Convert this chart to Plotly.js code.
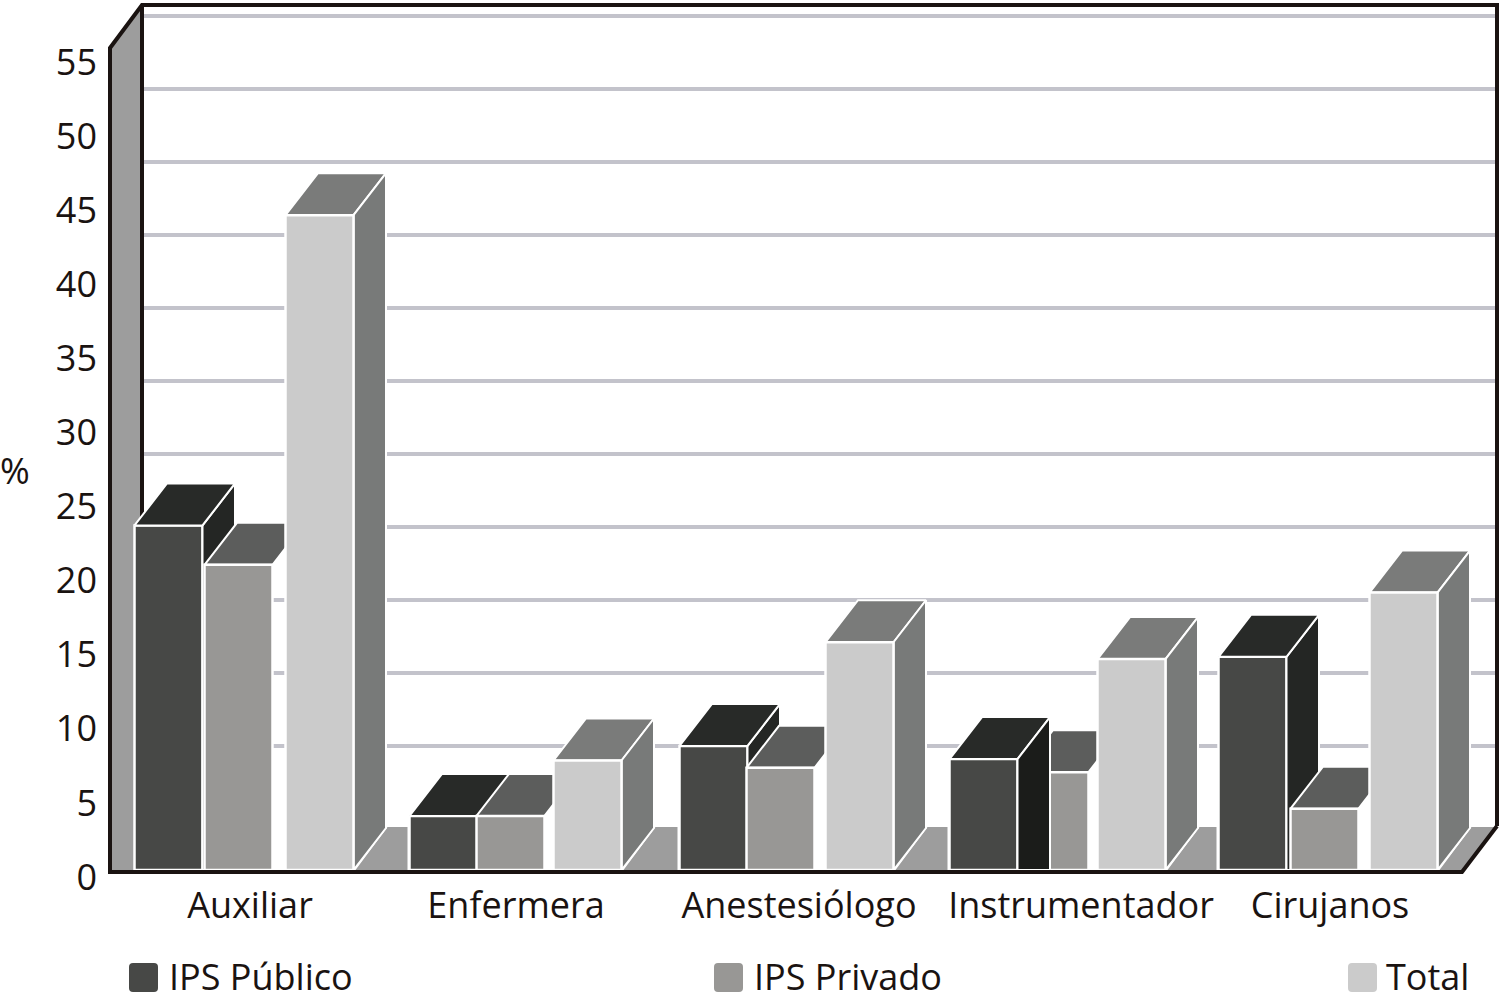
<!DOCTYPE html>
<html><head><meta charset="utf-8">
<script src="https://cdn.plot.ly/plotly-3.0.1.min.js"></script>
<style>html,body{margin:0;padding:0;background:#fff}#c{width:1500px;height:992px}</style>
</head><body><div id="c"></div>
<script>
const categories = ['Auxiliar','Enfermera','Anestesiólogo','Instrumentador','Cirujanos'];
const ipsPublico = [23.6,3.7,8.5,7.6,14.6];
const ipsPrivado = [20.9,3.7,7.0,6.7,4.2];
const total = [44.85,7.5,15.6,14.45,19.0];
const axisTicks = [0,5,10,15,20,25,30,35,40,45,50,55];
const wallTicks = [5,10,15,20,25,30,35,40,45,50,55];

// layout constants (pixel-like x units, front floor at value 0)
const PLOT = {l:108,r:1,t:0,b:112,w:1500,h:992};
const Y0 = 870, SCALE = 14.6;
const yVal = px => (Y0-px)/SCALE;
const DX = 32.5, DY = 42/SCALE, W = 68;
const leftPub = [134.5,409.5,679.5,949.5,1218.5];
const leftPri = [204.5,476.5,746.5,1020.5,1290.5];
const leftTot = [285.5,553.5,825.5,1097.5,1369.5];
const labelX = [250,516,799,1081,1330];
const bottom = PLOT.h-PLOT.b;

const C = {pubF:'#474846',pubT:'#282a28',pubS:'#242624',pubSd:'#1b1c1a',
           priF:'#989795',priT:'#5c5d5c',totF:'#cbcbcb',totT:'#7a7b7a',totS:'#787a79',
           wall:'#9d9d9d',line:'#1a1311',grid:'#c3c3cb',text:'#1a1311'};

function poly(list){ // list of polygons -> x,y with null separators
  const x=[],y=[];
  list.forEach((p,i)=>{ if(i){x.push(null);y.push(null);} p.forEach(q=>{x.push(q[0]);y.push(q[1]);}); x.push(p[0][0]);y.push(p[0][1]); });
  return {x,y};
}
const topFace=(l,v)=>[[l,v],[l+DX,v+DY],[l+W+DX,v+DY],[l+W,v]];
const sideFace=(l,v)=>[[l+W,0],[l+W,v],[l+W+DX,v+DY],[l+W+DX,DY]];
const sideToFloor=(l,v)=>[[l+W,0],[l+W,v],[l+W+DX,v+DY],[l+W+DX,0]];
function face(polys,color,z,lw){
  const p=poly(polys);
  return {type:'scatter',mode:'lines',x:p.x,y:p.y,fill:'toself',fillcolor:color,
    line:{color:'#ffffff',width:lw===undefined?2:lw},zorder:z,hoverinfo:'skip',showlegend:false};
}
function bar(name,left,vals,color,z){
  return {type:'bar',name,x:left.map(l=>l+W/2),y:vals,width:W,customdata:categories,
    marker:{color,line:{color:'#ffffff',width:2.5}},zorder:z,showlegend:false,
    hovertemplate:'%{customdata}: %{y}<extra>'+name+'</extra>'};
}
function lineTrace(pts,z,w){
  return {type:'scatter',mode:'lines',x:pts.map(p=>p[0]),y:pts.map(p=>yVal(p[1])),
    line:{color:C.line,width:w||4},zorder:z,hoverinfo:'skip',showlegend:false,cliponaxis:false};
}

// floor pieces between the groups
const floors = leftTot.map((t,i)=>{
  const a=t+W+2, next = i<leftPub.length-1 ? leftPub[i+1]-2 : null;
  const back=yVal(827);
  return next!==null ? [[a,0],[a+32,back],[next,back],[next,0]] : [[a,0],[a+32,back],[1495,back],[1462,0]];
});
const wallPoly = [[110,yVal(870)],[110,yVal(48)],[141,yVal(7)],[141,yVal(870)]];
const cornerPoly = [[108,yVal(0)],[141,yVal(0)],[141,yVal(5)],[110,yVal(46)],[108,yVal(46)]];
const instr = 3;

const data = [
  face([cornerPoly],'#ffffff',0,0),
  face([wallPoly],C.wall,0,0),
  face(floors,C.wall,0,0),
  lineTrace([[110,872],[110,48],[142,5],[1497,5],[1497,826]],1),
  lineTrace([[142,5],[142,870]],1),
  bar('IPS Público',leftPub,ipsPublico,C.pubF,2),
  face(leftPub.map((l,i)=>sideToFloor(l,ipsPublico[i])).filter((_,i)=>i!==instr),C.pubS,3),
  face(leftPub.map((l,i)=>topFace(l,ipsPublico[i])),C.pubT,3),
  face(leftPri.map((l,i)=>topFace(l,ipsPrivado[i])),C.priT,4),
  bar('IPS Privado',leftPri,ipsPrivado,C.priF,5),
  face([sideToFloor(leftPub[instr],ipsPublico[instr])],C.pubSd,6),
  face(leftTot.map((l,i)=>topFace(l,total[i])),C.totT,7),
  face(leftTot.map((l,i)=>sideFace(l,total[i])),C.totS,7),
  bar('Total',leftTot,total,C.totF,8),
  lineTrace([[108,872],[1462,872],[1497,826]],9),
  {type:'scatter',mode:'markers',x:[600],y:[5],yaxis:'y2',marker:{opacity:0},hoverinfo:'skip',showlegend:false},
  {type:'scatter',mode:'markers',x:[600],y:[5],yaxis:'y3',marker:{opacity:0},hoverinfo:'skip',showlegend:false}
];

const pxX = px => (px-PLOT.l)/(PLOT.w-PLOT.l-PLOT.r);
const pxY = px => 1-(px-PLOT.t)/(bottom-PLOT.t);
function swatch(x,color){
  const x0=x,x1=x+29,y0=963,y1=992,r=4;
  const X=pxX,Y=pxY;
  return {type:'path',xref:'paper',yref:'paper',fillcolor:color,line:{width:0},
    path:`M${X(x0+r)},${Y(y0)} L${X(x1-r)},${Y(y0)} Q${X(x1)},${Y(y0)} ${X(x1)},${Y(y0+r)} L${X(x1)},${Y(y1-r)} Q${X(x1)},${Y(y1)} ${X(x1-r)},${Y(y1)} L${X(x0+r)},${Y(y1)} Q${X(x0)},${Y(y1)} ${X(x0)},${Y(y1-r)} L${X(x0)},${Y(y0+r)} Q${X(x0)},${Y(y0)} ${X(x0+r)},${Y(y0)} Z`};
}
const font = {family:'"Open Sans", sans-serif',size:36,color:C.text};
const legendNote=(x,text)=>({xref:'paper',yref:'paper',x:pxX(x),y:pxY(977),text,showarrow:false,xanchor:'left',yanchor:'middle',font,borderpad:0});

const layout = {
  width:PLOT.w,height:PLOT.h,autosize:false,
  margin:{l:PLOT.l,r:PLOT.r,t:PLOT.t,b:PLOT.b,pad:0},
  paper_bgcolor:'#fff',plot_bgcolor:'#fff',barmode:'overlay',showlegend:false,hovermode:'closest',
  xaxis:{range:[PLOT.l,PLOT.w-PLOT.r],tickmode:'array',tickvals:labelX,ticktext:categories,tickfont:font,
    ticks:'',showgrid:false,zeroline:false,showline:false,fixedrange:true,ticklabelstandoff:1},
  yaxis:{range:[yVal(bottom),yVal(0)],showticklabels:false,ticks:'',showgrid:false,zeroline:false,showline:false,fixedrange:true},
  yaxis2:{overlaying:'y',side:'left',anchor:'x',range:[(877-bottom)/14.82,877/14.82],tickmode:'array',tickvals:axisTicks,
    tickfont:font,ticks:'',showgrid:false,zeroline:false,showline:false,fixedrange:true,ticklabelstandoff:10},
  yaxis3:{overlaying:'y',side:'left',anchor:'x',range:[(819-bottom)/SCALE,819/SCALE],tickmode:'array',tickvals:wallTicks,
    showticklabels:false,ticks:'',showgrid:true,gridcolor:C.grid,gridwidth:4,zeroline:false,showline:false,fixedrange:true},
  shapes:[swatch(129,C.pubF),swatch(714,C.priF),swatch(1348,C.totF)],
  annotations:[
    legendNote(168,'IPS Público'),legendNote(753,'IPS Privado'),legendNote(1385,'Total'),
    {xref:'paper',yref:'paper',x:pxX(15),y:pxY(470),text:'%',showarrow:false,xanchor:'center',yanchor:'middle',font}
  ]
};
Plotly.newPlot('c',data,layout,{displayModeBar:false,responsive:false});
</script></body></html>
